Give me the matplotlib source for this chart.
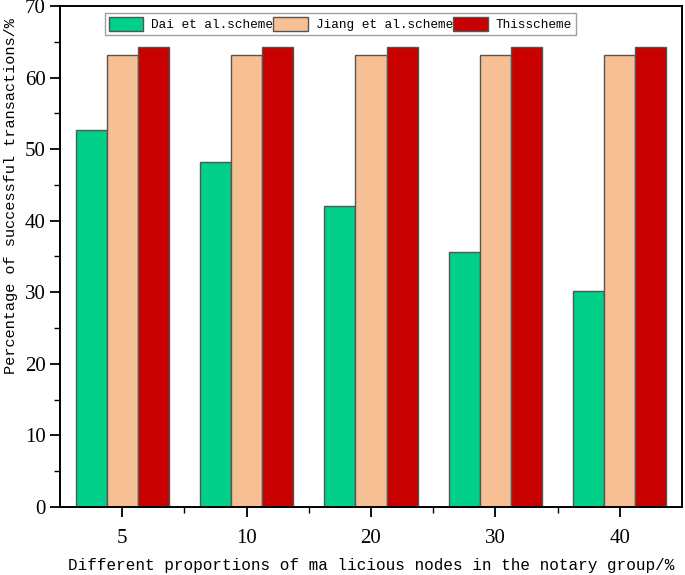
import numpy as np
import matplotlib
matplotlib.use("Agg")
import matplotlib.pyplot as plt
from matplotlib.ticker import MultipleLocator, FixedLocator

# data
categories = ["5", "10", "20", "30", "40"]
dai = [52.7, 48.2, 42.1, 35.6, 30.2]
jiang = [63.1, 63.1, 63.1, 63.1, 63.1]
ours = [64.2, 64.2, 64.2, 64.2, 64.2]
labels = ["Dai et al.scheme", "Jiang et al.scheme", "Thisscheme"]
colors = ["#00d08a", "#f7bf94", "#c80000"]

fig = plt.figure(figsize=(6.85, 5.75), dpi=100)
ax = fig.add_axes([0.0876, 0.1183, 0.9080, 0.8713])

x = np.arange(1, len(categories) + 1)
w = 0.25
for k, (vals, lab, col) in enumerate(zip([dai, jiang, ours], labels, colors)):
    ax.bar(x + (k - 1) * w, vals, width=w, color=col, edgecolor="#555555",
           linewidth=1.0, label=lab)

ax.set_xlim(0.5, 5.5)
ax.set_ylim(0, 70)
ax.set_xticks(x)
ax.set_xticklabels(categories)
ax.xaxis.set_minor_locator(FixedLocator(x[:-1] + 0.5))
ax.yaxis.set_major_locator(MultipleLocator(10))
ax.yaxis.set_minor_locator(MultipleLocator(5))
ax.tick_params(which="major", direction="out", length=7, width=1.3,
               labelsize=15, top=False, right=False)
ax.tick_params(axis="x", which="major", pad=9)
ax.tick_params(which="minor", direction="out", length=4, width=1.0,
               top=False, right=False)
for t in ax.get_xticklabels() + ax.get_yticklabels():
    t.set_family("Liberation Serif")
    t.set_stretch("condensed")

for s in ax.spines.values():
    s.set_linewidth(1.4)

ax.set_xlabel("Different proportions of ma licious nodes in the notary group/%",
              family="Liberation Mono", fontsize=11.5, labelpad=7)
ax.set_ylabel("Percentage of successful transactions/%",
              family="Liberation Mono", fontsize=11)
ax.yaxis.set_label_coords(-0.068, 0.62)

leg = ax.legend(loc="upper left", bbox_to_anchor=(0.072, 0.986), ncol=3,
                prop={"family": "Liberation Mono", "size": 9.2},
                frameon=True, fancybox=False, edgecolor="#888888",
                borderpad=0.3, handlelength=2.7, handleheight=1.3,
                handletextpad=0.6, columnspacing=0.05, borderaxespad=0)
leg.get_frame().set_linewidth(1.0)

fig.savefig("out.png", dpi=100)
